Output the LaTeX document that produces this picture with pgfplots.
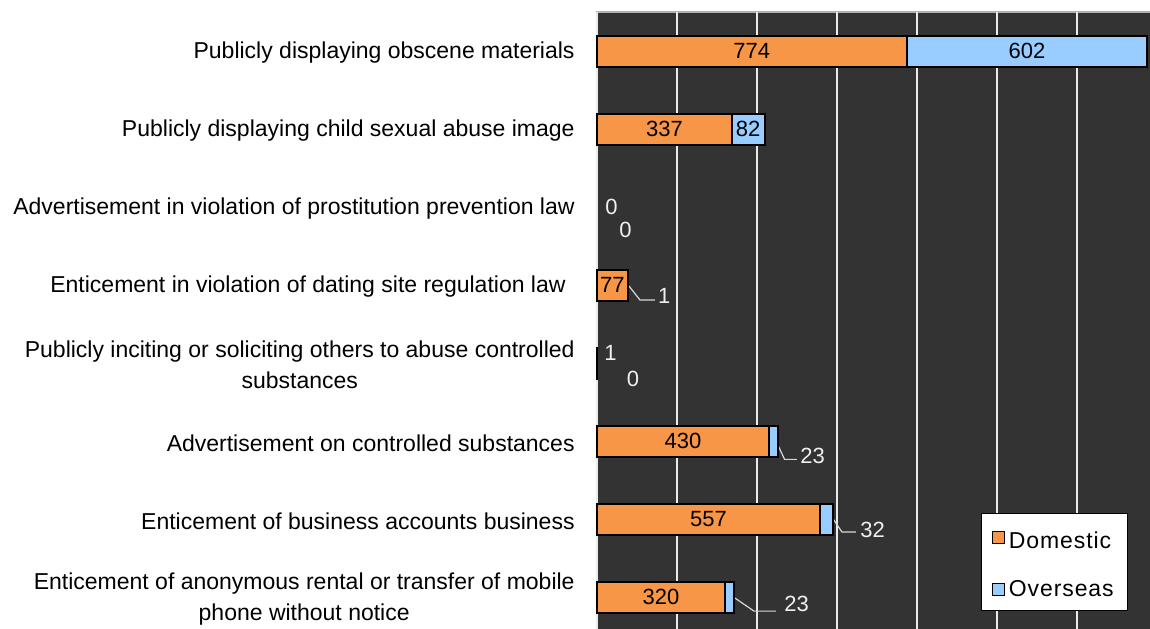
\documentclass[border=0pt]{standalone}
\usepackage{pgfplots}
\pgfplotsset{compat=1.18}
\usepackage{pgfplotstable}
\usepackage{fontspec}
\setmainfont{Liberation Sans}
\definecolor{bgdark}{HTML}{333333}
\definecolor{dom}{HTML}{F79646}
\definecolor{ovs}{HTML}{99CCFF}
\definecolor{lead}{HTML}{D8D8D8}
% row 2 (prostitution prevention law) has 0 domestic and 0 overseas: no bar drawn, labels only
\pgfplotstableread{
idx dom ovs
0 774 602
1 337 82
3 77 1
4 1 0
5 430 23
6 557 32
7 320 23
}\datatable
\tikzset{inlab/.style={font=\fontsize{11}{13}\selectfont, inner sep=0pt, text=black},
         outlab/.style={font=\fontsize{11}{13}\selectfont, inner sep=0pt, text=white!94!black}}
\begin{document}
\begin{tikzpicture}
\begin{axis}[
  scale only axis,
  width=278.5pt, height=310pt,
  xbar stacked,
  bar width=15.5pt,
  y dir=reverse,
  xmin=0, xmax=1392.5,
  ymin=-0.5, ymax=7.448,
  xtick={0,200,...,1400},
  xticklabels={},
  major tick length=0pt,
  xmajorgrids,
  grid style={line width=0.7pt, color=white!92!black},
  axis background/.style={fill=bgdark, draw=gray!60, line width=0.7pt},
  axis line style={draw=none},
  ytick={0,...,7},
  yticklabels={
    Publicly displaying obscene materials,
    Publicly displaying child sexual abuse image,
    Advertisement in violation of prostitution prevention law,
    Enticement in violation of dating site regulation law\hspace{4.5pt},
    Publicly inciting or soliciting others to abuse controlled\\substances,
    Advertisement on controlled substances,
    Enticement of business accounts business,
    Enticement of anonymous rental or transfer of mobile\\phone without notice
  },
  yticklabel style={align=center, font=\fontsize{11.5}{15.5}\selectfont, inner sep=0pt, xshift=-11pt, yshift=-1pt},
  legend style={at={(0.6895,0.1925)}, anchor=north west, draw=black, line width=0.6pt, fill=white,
    font=\fontsize{11.5}{13}\selectfont\addfontfeatures{LetterSpace=4}, inner xsep=5pt, inner ysep=3.5pt, row sep=10.5pt,
    legend cell align=left},
  legend image code/.code={\draw[#1, line width=0.6pt] (0pt,-3pt) rectangle (6pt,3pt);},
  clip=false,
]
\addplot[fill=dom, draw=black, line width=1pt] table[x=dom, y=idx] {\datatable};
\addplot[fill=ovs, draw=black, line width=1pt] table[x=ovs, y=idx] {\datatable};
\legend{\rule{0pt}{12pt}Domestic, Overseas}

% positions of in-bar value labels (drawn after the axis, above the bars)
\coordinate (a1) at (axis cs:387,0);
\coordinate (a2) at (axis cs:1075,0);
\coordinate (b1) at (axis cs:168.5,1);
\coordinate (b2) at (axis cs:378,1);
\coordinate (d1) at (axis cs:38.5,3);
\coordinate (f1) at (axis cs:215,5);
\coordinate (g1) at (axis cs:278.5,6);
\coordinate (h1) at (axis cs:160,7);
% outside value labels
\node[outlab] at (axis cs:36,2.0) {0};
\node[outlab] at (axis cs:71,2.30) {0};
\node[outlab] at (axis cs:34,3.865) {1};
\node[outlab] at (axis cs:90,4.2) {0};
\draw[lead, line width=0.6pt] (axis cs:80,3.013) -- (axis cs:107.5,3.192) -- (axis cs:145,3.192);
\node[outlab, anchor=west] at (axis cs:152,3.14) {1};
\draw[lead, line width=0.6pt] (axis cs:453,5.06) -- (axis cs:469,5.235) -- (axis cs:500,5.235);
\node[outlab, anchor=west] at (axis cs:507.5,5.19) {23};
\draw[lead, line width=0.6pt] (axis cs:589,5.987) -- (axis cs:612.5,6.167) -- (axis cs:647.5,6.167);
\node[outlab, anchor=west] at (axis cs:657.5,6.14) {32};
\draw[lead, line width=0.6pt] (axis cs:343,7.006) -- (axis cs:392.5,7.18) -- (axis cs:447.5,7.18);
\node[outlab, anchor=west] at (axis cs:467.5,7.09) {23};
\end{axis}
\node[inlab] at (a1) {774};
\node[inlab] at (a2) {602};
\node[inlab] at (b1) {337};
\node[inlab] at (b2) {82};
\node[inlab] at (d1) {77};
\node[inlab] at (f1) {430};
\node[inlab] at (g1) {557};
\node[inlab] at (h1) {320};
\pgfresetboundingbox
\path[use as bounding box] (current axis.north west) ++(-298.5pt,6pt) rectangle ++(575pt,-314pt);
\end{tikzpicture}
\end{document}
